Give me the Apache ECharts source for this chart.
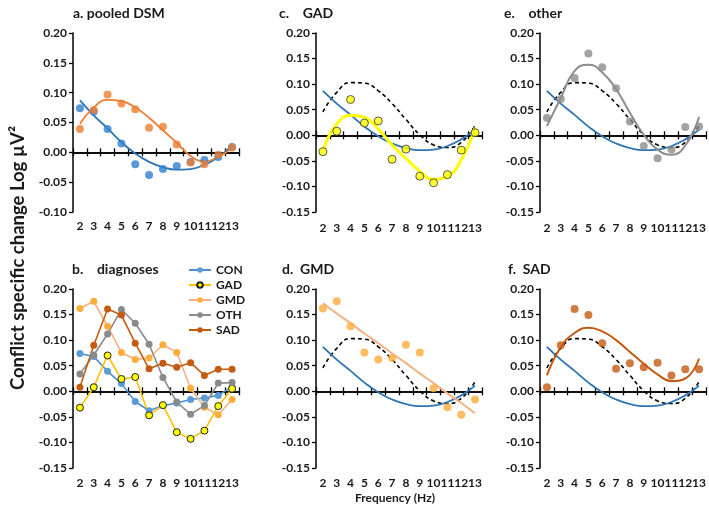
<!DOCTYPE html>
<html><head><meta charset="utf-8">
<script src="https://cdn.jsdelivr.net/npm/echarts@6/dist/echarts.min.js"></script>
<style>html,body{margin:0;padding:0;background:#fff}#c{width:709px;height:509px}</style>
</head><body><div id="c"></div>
<script>
const freq = ['2','3','4','5','6','7','8','9','10','11','12','13'];
// observed group means
const conDots = [0.074, 0.068, 0.039, 0.015, -0.020, -0.038, -0.028, -0.023, -0.016, -0.013, -0.008, 0.009];
const dsmDots = [0.039, 0.071, 0.097, 0.082, 0.072, 0.041, 0.043, 0.013, -0.017, -0.020, -0.004, 0.008];
const gadDots = [-0.032, 0.008, 0.070, 0.024, 0.028, -0.047, -0.027, -0.080, -0.093, -0.077, -0.029, 0.005];
const gmdDots = [0.162, 0.176, 0.127, 0.076, 0.062, 0.065, 0.091, 0.076, 0.006, -0.031, -0.046, -0.016];
const othDots = [0.034, 0.071, 0.112, 0.160, 0.133, 0.092, 0.027, -0.021, -0.045, -0.028, 0.016, 0.017];
const sadDots = [0.008, 0.090, 0.161, 0.149, 0.094, 0.044, 0.055, 0.047, 0.056, 0.031, 0.043, 0.043];
// trend lines read at each frequency
const conFit = [0.087, 0.062, 0.040, 0.017, -0.002, -0.016, -0.025, -0.029, -0.028, -0.021, -0.008, 0.011];
const dsmFit = [0.048, 0.075, 0.088, 0.086, 0.075, 0.058, 0.037, 0.016, -0.006, -0.015, -0.008, 0.008];
const dsmRefFit = [0.046, 0.084, 0.103, 0.102, 0.087, 0.062, 0.031, 0.001, -0.019, -0.024, -0.014, 0.019];
const gadFit = [-0.030, 0.022, 0.039, 0.035, 0.012, -0.019, -0.045, -0.070, -0.086, -0.080, -0.048, 0.015];
const gmdFit = [0.172, 0.152, 0.133, 0.113, 0.094, 0.074, 0.055, 0.035, 0.016, -0.004, -0.023, -0.043];
const othFit = [0.018, 0.073, 0.126, 0.138, 0.123, 0.090, 0.044, 0.001, -0.028, -0.038, -0.020, 0.036];
const sadFit = [0.031, 0.086, 0.114, 0.124, 0.117, 0.100, 0.077, 0.054, 0.033, 0.020, 0.025, 0.064];
const yMaxAll = 0.20, yStep = 0.05;
const yMinA = -0.10, yMinOther = -0.15;

const FONT = 'Lato, "Open Sans", sans-serif';
const TXT = '#1a1a1a';
const C = {con:'#2e75b6', conDot:'#2f80d1', dsm:'#ed7d31', gad:'#ffff00', gadLine:'#ffc000', gmdDot:'#ffad3b', gmdLine:'#f4b183', oth:'#8c8c8c', sad:'#c55a11'};

const panels = [
  {left:73, top:33, h:179, ymin:yMinA, labelGap:8},
  {left:73, top:289, h:179, ymin:yMinOther, labelGap:9},
  {left:316, top:33, h:179, ymin:yMinOther, labelGap:10},
  {left:316, top:289, h:179, ymin:yMinOther, labelGap:9},
  {left:540, top:33, h:179, ymin:yMinOther, labelGap:10},
  {left:540, top:289, h:179, ymin:yMinOther, labelGap:9}
];
const grid = [], xAxis = [], yAxis = [];
panels.forEach((p, g) => {
  grid.push({left:p.left, top:p.top, width:166, height:p.h, containLabel:false, outerBoundsMode:'none'});
  xAxis.push({type:'category', gridIndex:g, data:freq, position:'bottom', boundaryGap:true,
    axisLine:{show:false, onZero:false}, axisTick:{show:false},
    axisLabel:{show:true, interval:0, margin:p.labelGap, fontFamily:FONT, fontWeight:'bold', fontSize:12, color:TXT},
    splitLine:{show:false}});
  xAxis.push({type:'category', gridIndex:g, data:freq, position:'bottom', boundaryGap:true,
    axisLine:{show:true, onZero:true, onZeroAxisIndex:g, lineStyle:{color:'#000', width:1.5}},
    axisTick:{show:true, interval:0, length:4, lineStyle:{color:'#000', width:1.3}},
    axisLabel:{show:false}, splitLine:{show:false}});
  xAxis.push({type:'category', gridIndex:g, data:freq, position:'top', boundaryGap:true,
    axisLine:{show:true, onZero:true, onZeroAxisIndex:g, lineStyle:{color:'#000', width:1.5}},
    axisTick:{show:true, interval:0, length:4, lineStyle:{color:'#000', width:1.3}},
    axisLabel:{show:false}, splitLine:{show:false}});
  yAxis.push({type:'value', gridIndex:g, min:p.ymin, max:yMaxAll, interval:yStep,
    axisLine:{show:true, onZero:false, lineStyle:{color:'#000', width:1.5}},
    axisTick:{show:true, length:4, lineStyle:{color:'#000', width:1.3}},
    axisLabel:{formatter:v => v.toFixed(2), fontFamily:FONT, fontWeight:'bold', fontSize:12, color:TXT, margin:6},
    splitLine:{show:false}});
});

function fit(g, name, data, color, width, dashed, z) {
  return {type:'line', name, xAxisIndex:3*g, yAxisIndex:g, data, smooth:0.5, showSymbol:false, symbol:'none',
    lineStyle:{color, width, type: dashed ? [4,3] : 'solid'}, z: z || 2, silent:true, animation:false};
}
function dots(g, name, data, color, size, border) {
  return {type:'scatter', name, xAxisIndex:3*g, yAxisIndex:g, data, symbolSize:size,
    itemStyle:{color, borderColor: border || color, borderWidth: border ? 1 : 0}, z:5, animation:false};
}
function grp(name, data, line, dot, border) {
  return {type:'line', name, xAxisIndex:3, yAxisIndex:1, data, symbol:'circle', symbolSize:7, showSymbol:true,
    lineStyle:{color:line, width:1.6}, itemStyle:{color:dot, borderColor: border || dot, borderWidth: border ? 1 : 0},
    z:3, animation:false};
}

const series = [
  fit(0, 'a-con-fit', conFit, C.con, 1.8),
  fit(0, 'a-dsm-fit', dsmFit, C.dsm, 1.8),
  dots(0, 'a-con', conDots, C.conDot, 8),
  dots(0, 'a-dsm', dsmDots, C.dsm, 8),
  grp('CON', conDots, '#4a8fd6', '#5b9bd5'),
  grp('GAD', gadDots, C.gadLine, C.gad, '#222'),
  grp('GMD', gmdDots, C.gmdLine, C.gmdDot),
  grp('OTH', othDots, C.oth, '#8a8a8a'),
  grp('SAD', sadDots, C.sad, C.sad),
  fit(2, 'c-ref', dsmRefFit, '#000', 1.6, true),
  fit(2, 'c-con', conFit, C.con, 1.8),
  fit(2, 'c-gad', gadFit, C.gad, 3, false, 3),
  dots(2, 'c-gad-d', gadDots, C.gad, 8, '#333'),
  fit(3, 'd-ref', dsmRefFit, '#000', 1.6, true),
  fit(3, 'd-con', conFit, C.con, 1.8),
  fit(3, 'd-gmd', gmdFit, C.gmdLine, 2, false, 3),
  dots(3, 'd-gmd-d', gmdDots, C.gmdDot, 8),
  fit(4, 'e-ref', dsmRefFit, '#000', 1.6, true),
  fit(4, 'e-con', conFit, C.con, 1.8),
  fit(4, 'e-oth', othFit, C.oth, 2, false, 3),
  dots(4, 'e-oth-d', othDots, C.oth, 8),
  fit(5, 'f-ref', dsmRefFit, '#000', 1.6, true),
  fit(5, 'f-con', conFit, C.con, 1.8),
  fit(5, 'f-sad', sadFit, C.sad, 2, false, 3),
  dots(5, 'f-sad-d', sadDots, C.sad, 8)
];

function label(x, y, text, size) {
  return {type:'text', left:x, top:y, silent:true,
    style:{text, fontFamily:FONT, fontWeight:'bold', fontSize:size || 14, fill:TXT}};
}
const graphic = [
  label(73, 6, 'a. pooled DSM'),
  label(72, 262, 'b.    diagnoses'),
  label(279, 6, 'c.    GAD'),
  label(282, 262, 'd.  GMD'),
  label(504, 6, 'e.    other'),
  label(508, 262, 'f.  SAD'),
  {type:'text', x:395, y:498, silent:true,
    style:{text:'Frequency (Hz)', fontFamily:FONT, fontWeight:'bold', fontSize:12, fill:TXT, align:'center', verticalAlign:'middle'}},
  {type:'text', x:18, y:258, rotation:Math.PI/2, silent:true,
    style:{text:'Conflict specific change Log µV²', fontFamily:FONT, fontWeight:'bold', fontSize:18.5, fill:TXT, align:'center', verticalAlign:'middle'}}
];

const chart = echarts.init(document.getElementById('c'), null, {renderer:'canvas'});
chart.setOption({
  animation:false,
  backgroundColor:'#fff',
  grid, xAxis, yAxis, series, graphic,
  legend:{data:['CON','GAD','GMD','OTH','SAD'], orient:'vertical', left:183, top:259,
    itemWidth:22, itemHeight:7, itemGap:3, selectedMode:false,
    textStyle:{fontFamily:FONT, fontWeight:'bold', fontSize:12, color:TXT, lineHeight:12}}
});
</script></body></html>
